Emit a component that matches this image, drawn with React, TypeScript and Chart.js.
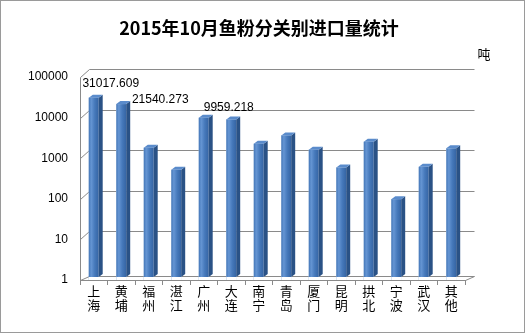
import React, { useEffect, useRef } from 'react';
import { Chart, registerables } from 'chart.js';

Chart.register(...registerables);

const categories = ['上海', '黄埔', '福州', '湛江', '广州', '大连', '南宁', '青岛', '厦门', '昆明', '拱北', '宁波', '武汉', '其他'];
const volumes = [31017.609, 21540.273, 1820, 517, 9959.218, 8980, 2280, 3640, 1625, 589, 2550, 98, 612, 1750];
const valueLabels = ['31017.609', '21540.273', null, null, '9959.218', null, null, null, null, null, null, null, null, null];
const yTicks = [1, 10, 100, 1000, 10000, 100000];
const titleText = '2015年10月鱼粉分关别进口量统计';
const unitText = '吨';

const CJK = '"Noto Sans CJK SC", "Noto Sans", sans-serif';
const NUM = '"Liberation Sans", Arial, sans-serif';
const GRID = '#8a8a8a';

const wallPlugin = {
  id: 'wall3d',
  beforeDraw(chart: any) {
    const { ctx, width, height } = chart;
    ctx.save();
    ctx.fillStyle = '#ffffff';
    ctx.fillRect(0, 0, width, height);
    ctx.strokeStyle = '#9a9a9a';
    ctx.lineWidth = 1;
    ctx.strokeRect(0.5, 0.5, width - 1, height - 1);
    ctx.fillStyle = '#000';
    ctx.font = `bold 18px ${CJK}`;
    ctx.textAlign = 'center';
    ctx.textBaseline = 'middle';
    ctx.fillText(titleText, 259, 28);
    ctx.font = `13px ${CJK}`;
    ctx.fillText(unitText, 484, 54);
    ctx.restore();
  },
  beforeDatasetsDraw(chart: any) {
    const { ctx, chartArea, scales } = chart;
    const { left, right, top, bottom } = chartArea;
    const y = scales.y;
    const dx = 9, dy = 8;
    const L = Math.round(left) + 0.5;
    const R = Math.round(right) + 0.5;
    ctx.save();
    ctx.strokeStyle = GRID;
    ctx.lineWidth = 1;
    ctx.beginPath();
    ctx.moveTo(L, Math.round(top) + 0.5);
    ctx.lineTo(L, Math.round(bottom) + 0.5);
    yTicks.forEach((v) => {
      const yy = Math.round(y.getPixelForValue(v)) + 0.5;
      const k = v === 1 ? 0.5 : 1;
      ctx.moveTo(L, yy);
      ctx.lineTo(L + dx, yy - dy * k);
      ctx.lineTo(R + dx, yy - dy * k);
    });
    const B = Math.round(bottom) + 0.5;
    ctx.moveTo(L, B);
    ctx.lineTo(R, B);
    ctx.lineTo(R + dx, B - dy * 0.5);
    ctx.stroke();
    ctx.restore();
  },
  afterDatasetsDraw(chart: any) {
    const { ctx } = chart;
    const meta = chart.getDatasetMeta(0);
    const d = 4, dd = 3;
    ctx.save();
    meta.data.forEach((bar: any, i: number) => {
      const { x, y, base, width } = bar.getProps(['x', 'y', 'base', 'width'], true);
      const b = base - 3;
      const l = x - width / 2;
      const r = x + width / 2;
      ctx.fillStyle = '#ffffff';
      ctx.fillRect(l, y, width + 0.5, base - y + 0.5);
      ctx.strokeStyle = GRID;
      ctx.beginPath();
      ctx.moveTo(l - 1, Math.round(base) + 0.5);
      ctx.lineTo(r + 1, Math.round(base) + 0.5);
      ctx.stroke();
      const g = ctx.createLinearGradient(l, 0, r, 0);
      g.addColorStop(0, '#4477b8');
      g.addColorStop(0.25, '#6595d3');
      g.addColorStop(0.6, '#4679bb');
      g.addColorStop(1, '#3564a3');
      ctx.fillStyle = g;
      ctx.fillRect(l, y, width, b - y);
      ctx.fillStyle = '#2a5286';
      ctx.beginPath();
      ctx.moveTo(r, y);
      ctx.lineTo(r + d, y - dd);
      ctx.lineTo(r + d, b - dd);
      ctx.lineTo(r, b);
      ctx.closePath();
      ctx.fill();
      ctx.fillStyle = '#5a8bcb';
      ctx.beginPath();
      ctx.moveTo(l, y);
      ctx.lineTo(r, y);
      ctx.lineTo(r + d, y - dd);
      ctx.lineTo(l + d, y - dd);
      ctx.closePath();
      ctx.fill();
      const lab = valueLabels[i];
      if (lab) {
        const offs: Record<number, [number, number]> = { 0: [17, -13.5], 1: [39, -4], 4: [25, -10] };
        const o = offs[i] || [0, -10];
        ctx.fillStyle = '#000';
        ctx.font = `12px ${NUM}`;
        ctx.textAlign = 'center';
        ctx.textBaseline = 'middle';
        ctx.fillText(lab, x + o[0], y + o[1]);
      }
    });
    ctx.restore();
  },
};

export default function App() {
  const ref = useRef<HTMLCanvasElement>(null);
  useEffect(() => {
    document.body.style.margin = '0';
    const chart = new Chart(ref.current as HTMLCanvasElement, {
      type: 'bar',
      data: {
        labels: categories.map((c) => c.split('')),
        datasets: [
          {
            data: volumes,
            backgroundColor: '#4f81bd',
            borderWidth: 0,
            barPercentage: 0.36,
            categoryPercentage: 1,
          },
        ],
      },
      options: {
        animation: false,
        responsive: false,
        devicePixelRatio: 1,
        layout: { padding: { top: 77, right: 60, left: 0, bottom: 0 } },
        plugins: { legend: { display: false }, tooltip: { enabled: false }, title: { display: false } },
        scales: {
          x: {
            grid: { display: true, drawOnChartArea: false, drawTicks: true, tickLength: 5, color: GRID, offset: true },
            border: { display: false },
            ticks: { font: { family: CJK, size: 13, lineHeight: 1.08 }, color: '#000', padding: -1, maxRotation: 0, autoSkip: false },
            afterFit: (s: any) => { s.height = 53; },
          },
          y: {
            type: 'logarithmic',
            min: 1,
            max: 100000,
            grid: { display: false, drawTicks: false },
            border: { display: false },
            ticks: {
              font: { family: NUM, size: 12 },
              color: '#000',
              padding: 12,
              callback: (v: any) => String(v),
            },
            afterBuildTicks: (s: any) => { s.ticks = yTicks.map((v) => ({ value: v })); },
            afterFit: (s: any) => { s.width = 80; },
          },
        },
      },
      plugins: [wallPlugin],
    });
    return () => chart.destroy();
  }, []);
  return (
    <div style={{ position: 'absolute', left: 0, top: 0, width: 525, height: 333 }}>
      <canvas ref={ref} width={525} height={333} />
    </div>
  );
}
